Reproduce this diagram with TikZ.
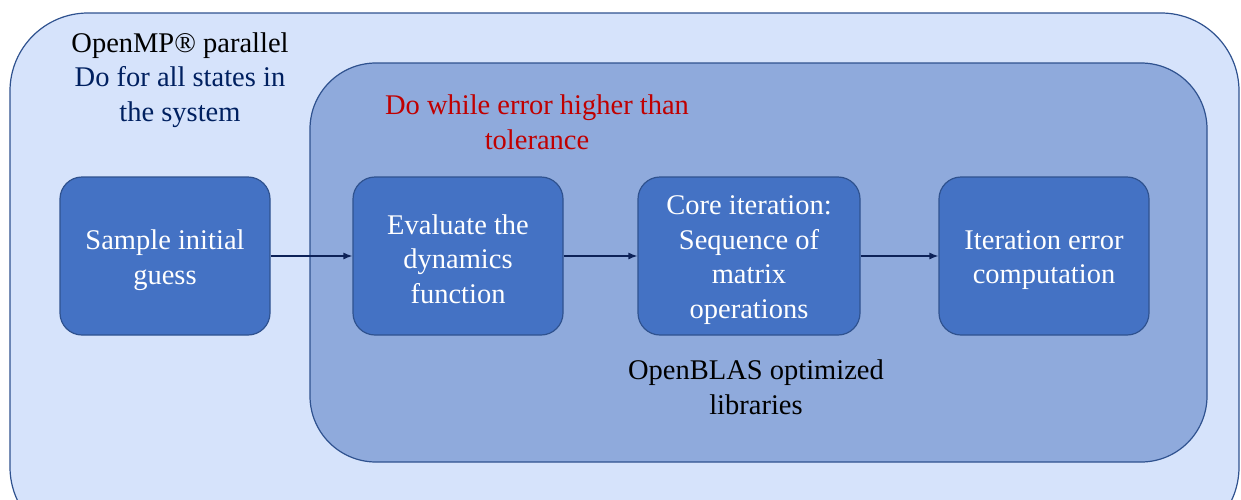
\documentclass[tikz,border=0pt]{standalone}
\usepackage{fontspec}
\setmainfont{LiberationSerif-Regular.ttf}[BoldFont=LiberationSerif-Bold.ttf]
\usetikzlibrary{arrows.meta}
\definecolor{outerfill}{HTML}{D6E3FB}
\definecolor{innerfill}{HTML}{8FAADC}
\definecolor{boxfill}{HTML}{4472C4}
\definecolor{edge}{HTML}{2F528F}
\definecolor{navy}{HTML}{002060}
\definecolor{darkred}{HTML}{C00000}
\definecolor{arrowc}{HTML}{0D2258}
\tikzset{
  txt/.style={font=\fontsize{28.5}{34.5}\selectfont, align=center, inner sep=0pt},
  stepbox/.style={draw=edge, line width=1.2pt, fill=boxfill, rounded corners=22pt,
    minimum height=158pt},
  boxtxt/.style={txt, text=white},
  conn/.style={draw=arrowc, line width=1.3pt, -{Latex[length=9pt,width=7pt]}},
}
\begin{document}
\begin{tikzpicture}[x=1pt,y=-1pt]
\useasboundingbox (0,0) rectangle (1241,499);
\clip (0,0) rectangle (1241,499);
\draw[draw=edge, line width=1.2pt, fill=outerfill, rounded corners=78pt] (10,13) rectangle (1239,545);
\draw[draw=edge, line width=1.2pt, fill=innerfill, rounded corners=66pt] (310,63) rectangle (1207,462);
\node[txt] (omp) at (180,80) {OpenMP® parallel\\\textcolor{navy}{Do for all states in}\\\textcolor{navy}{the system}};
\node[txt, text=darkred] (dowhile) at (537,122) {Do while error higher than\\tolerance};
\node[txt] (blas) at (756,387) {OpenBLAS optimized\\libraries};
\node[stepbox, minimum width=210pt] (sample) at (165,256) {};
\node[stepbox, minimum width=210pt] (eval) at (458,256) {};
\node[stepbox, minimum width=222pt] (core) at (749,256) {};
\node[stepbox, minimum width=210pt] (err) at (1044,256) {};
\node[boxtxt] (sampletxt) at ([yshift=-4pt]sample.center) {Sample initial\\guess};
\node[boxtxt] (evaltxt) at ([yshift=-3pt]eval.center) {Evaluate the\\dynamics\\function};
\node[boxtxt] (coretxt) at ([yshift=-4pt]core.center) {Core iteration:\\Sequence of\\matrix\\operations};
\node[boxtxt] (errtxt) at ([yshift=-4pt]err.center) {Iteration error\\computation};
\draw[conn] (sample) -- (eval);
\draw[conn] (eval) -- (core);
\draw[conn] (core) -- (err);
\end{tikzpicture}
\end{document}
